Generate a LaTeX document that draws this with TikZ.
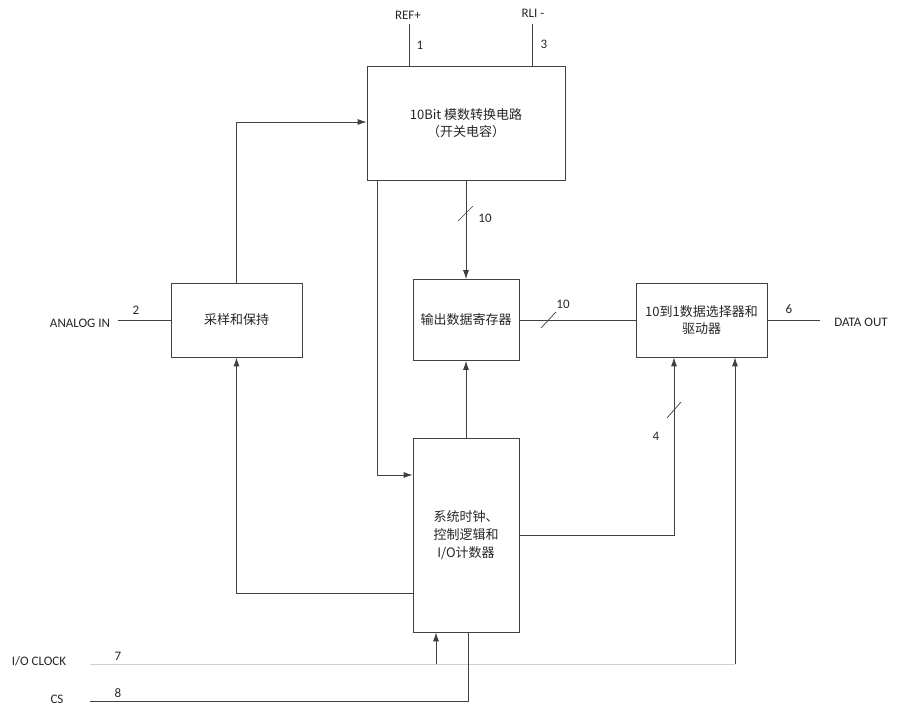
\documentclass[tikz,border=0pt]{standalone}
\usepackage{fontspec}
\setmainfont{Carlito}
\newfontfamily\cjk{Noto Sans CJK SC}
\usetikzlibrary{arrows.meta}
\definecolor{ln}{HTML}{404040}
\definecolor{lg}{HTML}{D0D0D0}
\tikzset{
  box/.style={draw=ln, line width=0.8pt, rectangle, inner sep=0pt, align=center, font=\cjk\fontsize{13}{17}\selectfont, text=black!85},
  wire/.style={draw=ln, line width=0.8pt},
  arr/.style={wire, -{Latex[length=9pt,width=6pt]}},
  lbl/.style={font=\fontsize{13}{15}\selectfont, inner sep=0pt, text=black!85},
  slash/.style={draw=ln, line width=0.7pt}
}
\begin{document}
\begin{tikzpicture}[x=1pt,y=-1pt]
\useasboundingbox (0,0) rectangle (900,711);
% boxes
\node[box, minimum width=198pt, minimum height=114pt] (ADC) at (466,123) {10Bit 模数转换电路\\（开关电容）};
\node[box, minimum width=131pt, minimum height=74pt] (SH) at (236.5,320) {采样和保持};
\node[box, minimum width=106pt, minimum height=81pt] (REG) at (466,320) {输出数据寄存器};
\node[box, minimum width=131pt, minimum height=74pt] (MUX) at (701.5,320) {10到1数据选择器和\\驱动器};
\node[box, minimum width=106pt, minimum height=194pt, font=\cjk\fontsize{13}{18}\selectfont] (CTRL) at (466,535) {系统时钟、\\控制逻辑和\\I/O计数器};
% labels
\node[lbl] (lref) at (408,15) {REF+};
\node[lbl] (lrli) at (533,13) {RLI -};
\node[lbl] (n1) at (420,45) {1};
\node[lbl] (n3) at (544,44) {3};
\node[lbl] (lana) at (80,323) {ANALOG IN};
\node[lbl] (n2) at (136,310) {2};
\node[lbl] (n10a) at (485,218) {10};
\node[lbl] (n10b) at (563,304) {10};
\node[lbl] (n6) at (789,309) {6};
\node[lbl] (ldat) at (861,322) {DATA OUT};
\node[lbl] (n4) at (656,436) {4};
\node[lbl] (lclk) at (39,661) {I/O CLOCK};
\node[lbl] (n7) at (118,656) {7};
\node[lbl] (lcs) at (57,699) {CS};
\node[lbl] (n8) at (118,693) {8};
% coordinates
\coordinate (refTop) at (409,24);
\coordinate (rliTop) at (532,24);
\coordinate (anaL) at (118,320);
\coordinate (datR) at (820,320);
\coordinate (clkL) at (90,664);
\coordinate (clkR) at (735,664);
\coordinate (csL) at (90,701);
\coordinate (csR) at (468,701);
% pins
\draw[wire] (refTop) -- (refTop |- ADC.north);
\draw[wire] (rliTop) -- (rliTop |- ADC.north);
\draw[wire] (anaL) -- (SH.west);
\draw[wire] (MUX.east) -- (datR);
% S/H -> ADC
\draw[arr] (SH.north) |- (ADC.west |- 0,122);
% ADC -> CTRL
\coordinate (a1) at (377,0);
\draw[arr] (ADC.south -| a1) |- (CTRL.west |- 0,475);
% ADC -> REG
\draw[arr] (ADC.south) -- (REG.north);
\draw[slash] (458,221) -- (473,206);
% REG -> MUX
\draw[wire] (REG.east) -- (MUX.west);
\draw[slash] (541,328) -- (556,312);
% CTRL -> REG
\draw[arr] (CTRL.north) -- (REG.south);
% CTRL -> MUX
\coordinate (m1) at (674,0);
\draw[arr] (CTRL.east |- 0,535) -| (MUX.south -| m1);
\draw[slash] (667,418) -- (681,402);
% CTRL -> SH
\draw[arr] (CTRL.west |- 0,593) -| (SH.south);
% clock
\draw[draw=lg, line width=0.8pt] (clkL) -- (clkR);
\draw[arr] (clkR) -- (MUX.south -| clkR);
\coordinate (c1) at (436,664);
\draw[arr] (c1) -- (CTRL.south -| c1);
% CS
\draw[wire] (csL) -- (csR) -- (CTRL.south -| csR);
\end{tikzpicture}
\end{document}
